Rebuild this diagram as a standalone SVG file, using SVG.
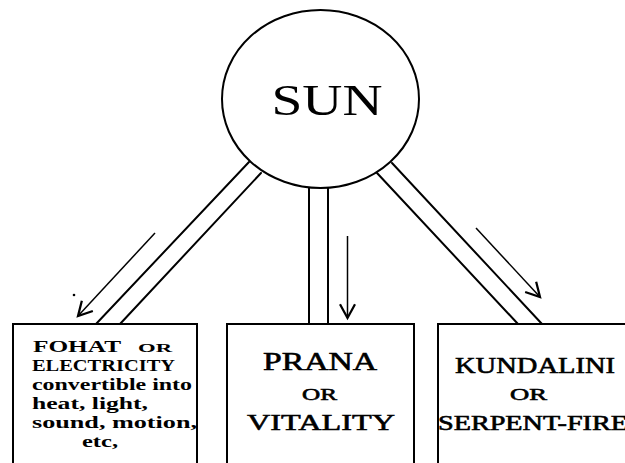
<svg xmlns="http://www.w3.org/2000/svg" width="625" height="463" viewBox="0 0 625 463">
<style>
.box{fill:#fff;stroke:#000;stroke-width:2}
.ln{stroke:#000;stroke-width:2;fill:none;stroke-linecap:round}
.arr{stroke:#000;stroke-width:1.5;fill:none;marker-end:url(#ah)}
.t{font-family:"Liberation Serif",serif;fill:#000}
.b{font-weight:bold}
.m{stroke:#000;stroke-width:0.6}
</style>
<defs>
<marker id="ah" markerUnits="userSpaceOnUse" markerWidth="20" markerHeight="20" viewBox="-12 -8 14 16" refX="0" refY="0" orient="auto">
<path d="M-11,-6 L0,0 L-11,6" fill="none" stroke="#000" stroke-width="1.8"/>
</marker>
</defs>
<rect width="625" height="463" fill="#fff"/>
<g id="connectors">
<line class="ln" x1="249" y1="162" x2="96" y2="324"/>
<line class="ln" x1="261" y1="173" x2="120" y2="324"/>
<line class="ln" x1="309" y1="188" x2="309" y2="324"/>
<line class="ln" x1="328" y1="188" x2="328" y2="324"/>
<line class="ln" x1="392" y1="163" x2="542" y2="324"/>
<line class="ln" x1="377" y1="173" x2="518" y2="324"/>
<line class="arr" x1="155" y1="233" x2="78" y2="316"/>
<line class="arr" x1="347.5" y1="236" x2="347.5" y2="318"/>
<line class="arr" x1="476" y1="228" x2="540" y2="297"/>
<circle cx="74" cy="295" r="1.3" fill="#000"/>
</g>
<g id="sun">
<ellipse cx="320.5" cy="99" rx="98.5" ry="89" fill="#fff" stroke="#000" stroke-width="2"/>
<text class="t" x="327" y="115" font-size="44" text-anchor="middle" textLength="111" lengthAdjust="spacingAndGlyphs">SUN</text>
</g>
<g id="fohat">
<rect class="box" x="13" y="324" width="184" height="150"/>
<text class="t b" x="33" y="352" font-size="16" textLength="88" lengthAdjust="spacingAndGlyphs">FOHAT</text>
<text class="t b" x="138" y="352" font-size="13" textLength="34" lengthAdjust="spacingAndGlyphs">OR</text>
<text class="t b" x="32" y="371" font-size="16" textLength="143" lengthAdjust="spacingAndGlyphs">ELECTRICITY</text>
<text class="t b" x="32" y="390" font-size="16" textLength="160" lengthAdjust="spacingAndGlyphs">convertible into</text>
<text class="t b" x="32" y="409" font-size="16" textLength="116" lengthAdjust="spacingAndGlyphs">heat, light,</text>
<text class="t b" x="32" y="428" font-size="16" textLength="165" lengthAdjust="spacingAndGlyphs">sound, motion,</text>
<text class="t b" x="82" y="447" font-size="16" textLength="36" lengthAdjust="spacingAndGlyphs">etc,</text>
</g>
<g id="prana">
<rect class="box" x="227" y="324" width="187" height="150"/>
<text class="t m" x="263" y="370" font-size="25" textLength="114" lengthAdjust="spacingAndGlyphs">PRANA</text>
<text class="t m" x="302" y="400" font-size="17" textLength="35" lengthAdjust="spacingAndGlyphs">OR</text>
<text class="t m" x="247" y="430" font-size="24" textLength="148" lengthAdjust="spacingAndGlyphs">VITALITY</text>
</g>
<g id="kundalini">
<rect class="box" x="438" y="324" width="200" height="150"/>
<text class="t m" x="455" y="373" font-size="23" textLength="160" lengthAdjust="spacingAndGlyphs">KUNDALINI</text>
<text class="t m" x="510" y="400" font-size="17" textLength="37" lengthAdjust="spacingAndGlyphs">OR</text>
<text class="t m" x="438" y="430" font-size="20" textLength="190" lengthAdjust="spacingAndGlyphs">SERPENT-FIRE</text>
</g>
</svg>
